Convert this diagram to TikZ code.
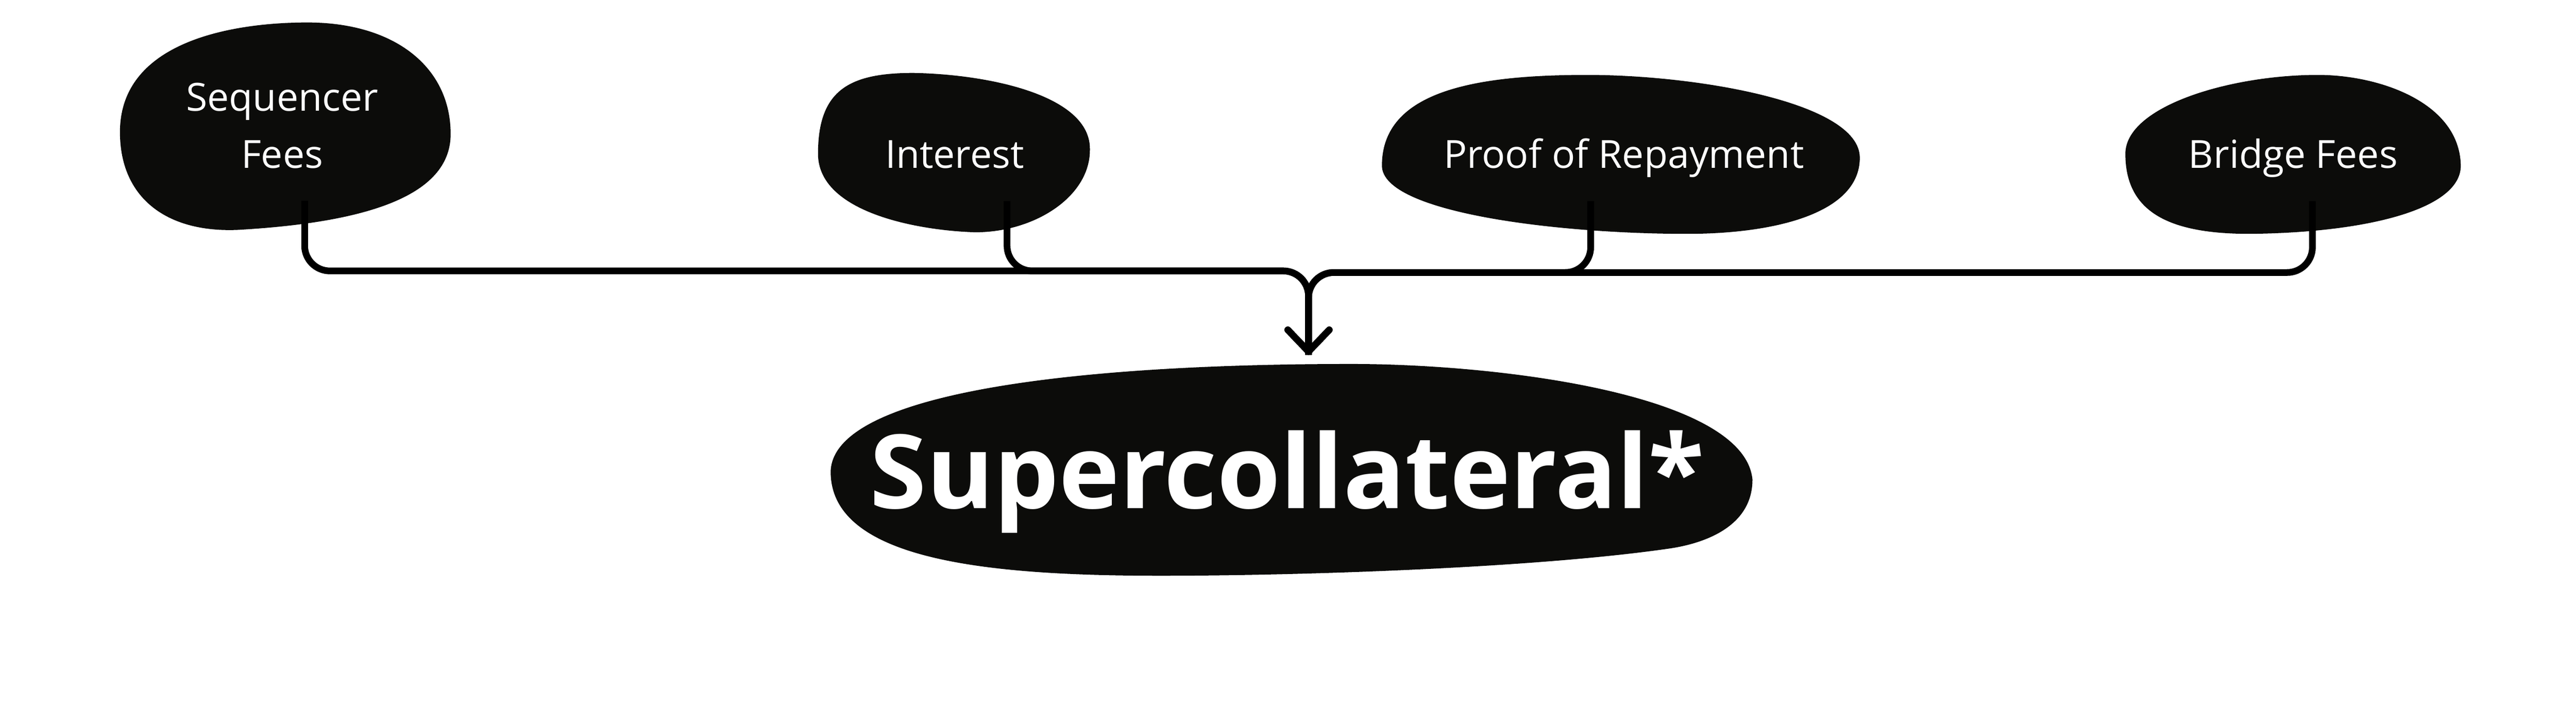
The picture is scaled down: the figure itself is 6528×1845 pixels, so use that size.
\documentclass[tikz,border=0pt]{standalone}
\usepackage{fontspec}
\setmainfont{Open Sans}
\usetikzlibrary{arrows.meta, calc}
\definecolor{blobink}{RGB}{12,12,10}

\begin{document}
\begin{tikzpicture}[x=0.01cm, y=-0.01cm,
    blob/.style={fill=blobink, draw=none},
    blobtext/.style={text=white, inner sep=0pt, align=center, font=\fontsize{27.9}{41}\selectfont},
    bigtext/.style={text=white, inner sep=0pt, font=\bfseries\fontsize{74}{80}\selectfont},
    feed/.style={draw=black, line width=0.17cm, rounded corners=0.64cm},
    flowtip/.style={-{Straight Barb[length=0.55cm, width=1.05cm, round]}}]
      \fill[white] (0,0) rectangle (6528,1845);
      \useasboundingbox (0,0) rectangle (6528,1845);

      % blobs
      \fill[blob] (779,57) .. controls (1000,57) and (1142,170) .. (1142,340)
        .. controls (1142,500) and (920,565) .. (601,583)
        .. controls (420,590) and (304,500) .. (304,335)
        .. controls (304,100) and (600,57) .. (779,57) -- cycle;
      \fill[blob] (2314,185) .. controls (2500,188) and (2765,240) .. (2762,380)
        .. controls (2762,500) and (2620,589) .. (2472,589)
        .. controls (2330,585) and (2073,540) .. (2073,390)
        .. controls (2073,230) and (2150,185) .. (2314,185) -- cycle;
      \fill[blob] (4022,190) .. controls (4300,190) and (4713,260) .. (4713,400)
        .. controls (4713,540) and (4500,593) .. (4275,593)
        .. controls (3950,593) and (3502,540) .. (3502,420)
        .. controls (3502,230) and (3740,190) .. (4022,190) -- cycle;
      \fill[blob] (5874,190) .. controls (6030,190) and (6233,260) .. (6236,420)
        .. controls (6236,530) and (6000,590) .. (5701,593)
        .. controls (5500,593) and (5386,540) .. (5386,390)
        .. controls (5386,270) and (5650,190) .. (5874,190) -- cycle;
      \fill[blob] (3425,923) .. controls (3800,923) and (4420,1000) .. (4441,1216)
        .. controls (4441,1330) and (4330,1375) .. (4237,1390)
        .. controls (3900,1440) and (3300,1460) .. (2941,1460)
        .. controls (2500,1460) and (2105,1420) .. (2105,1196)
        .. controls (2110,1000) and (2700,923) .. (3425,923) -- cycle;

      \node[blobtext, anchor=base] (seq) at (715,426) {Sequencer\\Fees};
      \node[blobtext, anchor=base] (int) at (2419,426) {Interest};
      \node[blobtext, anchor=base] (proof) at (4115,426) {Proof of Repayment};
      \node[blobtext, anchor=base] (bridge) at (5811,426) {Bridge Fees};
      \node[bigtext, anchor=base] (super) at (3262,1289) {Supercollateral*};

      \coordinate (seqout) at (772,509);
      \coordinate (intout) at (2552,510);
      \coordinate (proofout) at (4031,510);
      \coordinate (bridgeout) at (5860,510);
      \coordinate (hubL) at (3316,687);
      \coordinate (hubR) at (3316,691);
      \coordinate (hubtip) at (3316,900);

      \draw[feed, flowtip] (seqout) |- (hubL) -- (hubtip);
      \draw[feed] (intout) |- (hubL) -- (hubtip);
      \draw[feed] (proofout) |- (hubR) -- (hubtip);
      \draw[feed, flowtip] (bridgeout) |- (hubR) -- (hubtip);
    \end{tikzpicture}
\end{document}
